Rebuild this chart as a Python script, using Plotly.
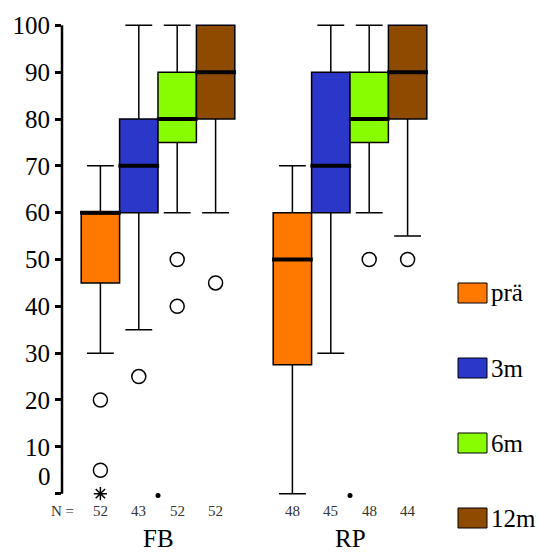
import plotly.graph_objects as go

# ---------------- data ----------------
groups = ["FB", "RP"]
series = ["prä", "3m", "6m", "12m"]
colors = ["#FF7800", "#2B37C8", "#88FC00", "#8E4B00"]

# per series: [FB, RP]
q1 = {"prä": [45, 27.5], "3m": [60, 60], "6m": [75, 75], "12m": [80, 80]}
median = {"prä": [60, 50], "3m": [70, 70], "6m": [80, 80], "12m": [90, 90]}
q3 = {"prä": [60, 60], "3m": [80, 90], "6m": [90, 90], "12m": [100, 100]}
low = {"prä": [30, 0], "3m": [35, 30], "6m": [60, 60], "12m": [60, 55]}
high = {"prä": [70, 70], "3m": [100, 100], "6m": [100, 100], "12m": [100, 100]}
outliers = {"prä": [[20, 5], []], "3m": [[25], []], "6m": [[50, 40], [50]], "12m": [[45], [50]]}
extremes = {"prä": [[0], []], "3m": [[], []], "6m": [[], []], "12m": [[], []]}
n_counts = {"prä": [52, 48], "3m": [43, 45], "6m": [52, 48], "12m": [52, 44]}
yticks = [0, 10, 20, 30, 40, 50, 60, 70, 80, 90, 100]

# ---------------- layout constants ----------------
OFF = 0  # page body margin (removed via post_script)
W, H = 538, 554
ML, MR, MT, MB = 62, 92, 16, 51
BOXW = 0.2
FONT = "Liberation Serif"

plot_w = W - ML - MR
plot_h = H - MT - MB

def px_x(p):
    return (p - OFF - ML) / plot_w

def px_y(p):
    return (H - MB - (p - OFF)) / plot_h

fig = go.Figure()

def xpos(gi, si):
    return gi + (si - 1.5) * BOXW

for si, s in enumerate(series):
    for gi, g in enumerate(groups):
        x = xpos(gi, si)
        fig.add_trace(go.Box(
            x=[x], q1=[q1[s][gi]], median=[median[s][gi]], q3=[q3[s][gi]],
            lowerfence=[low[s][gi]], upperfence=[high[s][gi]],
            width=BOXW, whiskerwidth=0.7, fillcolor=colors[si],
            line=dict(color="black", width=1.5), boxpoints=False,
            showlegend=False, hoverinfo="skip"))
        fig.add_trace(go.Scatter(
            x=[x - BOXW / 2 - 0.006, x + BOXW / 2 + 0.006],
            y=[median[s][gi]] * 2, mode="lines",
            line=dict(color="black", width=4), showlegend=False, hoverinfo="skip"))
        if outliers[s][gi]:
            fig.add_trace(go.Scatter(
                x=[x] * len(outliers[s][gi]), y=outliers[s][gi], mode="markers",
                marker=dict(symbol="circle-open", size=14, color="black",
                            line=dict(width=1.5)),
                showlegend=False, hoverinfo="skip", cliponaxis=False))
        if extremes[s][gi]:
            fig.add_trace(go.Scatter(
                x=[x] * len(extremes[s][gi]), y=extremes[s][gi], mode="markers",
                marker=dict(symbol="asterisk-open", size=11, color="black",
                            line=dict(width=1.5, color="black")),
                showlegend=False, hoverinfo="skip", cliponaxis=False))

# small category tick dots at baseline
fig.add_trace(go.Scatter(
    x=list(range(len(groups))), y=[-0.4] * len(groups), mode="markers",
    marker=dict(symbol="circle", size=5, color="black"),
    showlegend=False, hoverinfo="skip", cliponaxis=False))

annotations = []
shapes = []

shapes.append(dict(type="line", xref="paper", yref="y", x0=0, x1=0,
                   y0=yticks[0], y1=yticks[-1], line=dict(color="black", width=2.5)))

annotations.append(dict(xref="paper", yref="y", x=px_x(53), y=3.6, text="0",
                        showarrow=False, xanchor="right", yanchor="middle",
                        font=dict(family=FONT, size=25, color="black")))

ny = px_y(511)
annotations.append(dict(xref="paper", yref="paper", x=px_x(62), y=ny, text="N =",
                        showarrow=False, xanchor="center", yanchor="middle",
                        font=dict(family=FONT, size=15, color="#333333")))
for si, s in enumerate(series):
    for gi, g in enumerate(groups):
        annotations.append(dict(xref="x", yref="paper", x=xpos(gi, si), y=ny,
                                text=str(n_counts[s][gi]), showarrow=False,
                                xanchor="center", yanchor="middle",
                                font=dict(family=FONT, size=15, color="#333333")))
gy = px_y(554)
for gi, g in enumerate(groups):
    annotations.append(dict(xref="x", yref="paper", x=gi, y=gy, text=g,
                            showarrow=False, xanchor="center", yanchor="bottom",
                            font=dict(family=FONT, size=25, color="black")))

for si, s in enumerate(series):
    cy = 293 + 75 * si
    shapes.append(dict(type="rect", xref="paper", yref="paper",
                       x0=px_x(458), x1=px_x(487), y0=px_y(cy + 10), y1=px_y(cy - 10),
                       fillcolor=colors[si], line=dict(color="black", width=1)))
    annotations.append(dict(xref="paper", yref="paper", x=px_x(489), y=px_y(cy),
                            text=s, showarrow=False, xanchor="left", yanchor="middle",
                            font=dict(family=FONT, size=25, color="black")))

fig.update_layout(
    width=W, height=H,
    margin=dict(l=ML, r=MR, t=MT, b=MB, pad=0, autoexpand=False),
    plot_bgcolor="white", paper_bgcolor="white",
    showlegend=False,
    xaxis=dict(range=[-0.5, 1.5], showgrid=False, zeroline=False, showline=False,
               showticklabels=False, ticks="", automargin=False),
    yaxis=dict(range=[-2, 102], showgrid=False, zeroline=False, showline=False,
               tickvals=yticks, ticktext=[""] + [str(v) for v in yticks[1:]],
               ticks="outside", ticklen=6, tickwidth=3, tickcolor="black",
               automargin=False,
               tickfont=dict(family=FONT, size=25, color="black")),
    shapes=shapes, annotations=annotations,
)

fig.write_html(
    "out.html",
    config={"displayModeBar": False},
    post_script="document.body.style.margin='0';document.body.style.overflow='hidden';",
)
